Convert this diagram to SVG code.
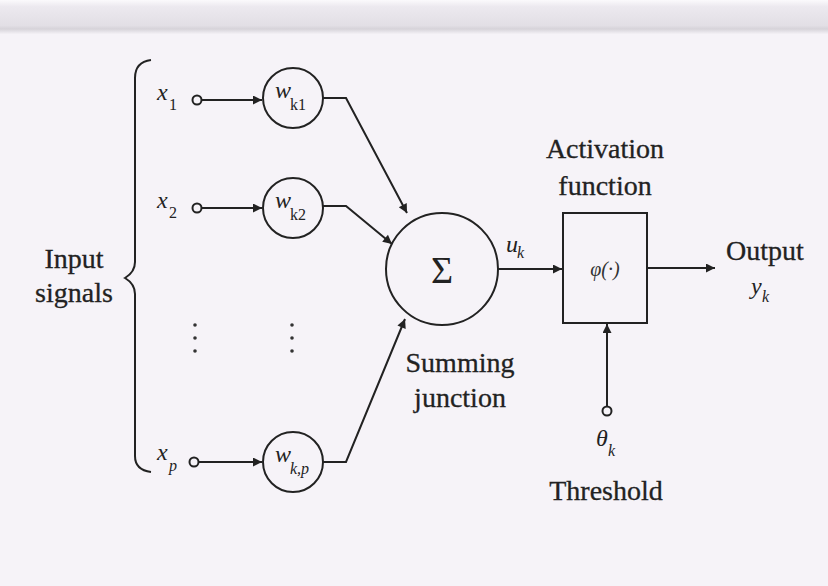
<svg xmlns="http://www.w3.org/2000/svg" width="828" height="586" viewBox="0 0 828 586">
<defs>
<marker id="ah" viewBox="0 0 10 10" refX="10" refY="5" markerWidth="11" markerHeight="9" markerUnits="userSpaceOnUse" orient="auto">
<path d="M0,0 L10,5 L0,10 z" fill="#222"/>
</marker>
<linearGradient id="band" x1="0" y1="0" x2="0" y2="1">
<stop offset="0" stop-color="#fbfafc"/>
<stop offset="0.2" stop-color="#ece9ef"/>
<stop offset="0.75" stop-color="#e2dfe5"/>
<stop offset="0.85" stop-color="#d6d3d9"/>
<stop offset="1" stop-color="#f4f1f6"/>
</linearGradient>
</defs>
<style>
.ln{fill:none;stroke:#222;stroke-width:2}
.cl{fill:none;stroke:#222;stroke-width:2}
.lb{font-family:"Liberation Serif",serif;font-size:28px;fill:#222;stroke:#222;stroke-width:0.3;text-anchor:middle}
.v{font-family:"Liberation Serif",serif;font-style:italic;font-size:24px;fill:#222}
.s{font-family:"Liberation Serif",serif;font-size:16px;fill:#222}
.si{font-family:"Liberation Serif",serif;font-style:italic;font-size:16px;fill:#222}
.dot{fill:#333}
</style>
<rect width="828" height="586" fill="#f6f3f8"/>
<rect x="0" y="0" width="828" height="34" fill="url(#band)"/>

<g id="input-signals">
<path class="ln" d="M151,60 Q135,62 135,78 L135,262 Q135,272 125,278 Q135,284 135,294 L135,456 Q135,470 151,472"/>
<text class="lb" x="74" y="268">Input</text>
<text class="lb" x="74" y="302">signals</text>
</g>

<g id="x1">
<text class="v" x="157" y="100">x</text><text class="s" x="169" y="110">1</text>
<circle class="cl" cx="197" cy="100" r="4.5"/>
</g>
<g id="x2">
<text class="v" x="157" y="208">x</text><text class="s" x="169" y="218">2</text>
<circle class="cl" cx="197" cy="208" r="4.5"/>
</g>
<g id="xp">
<text class="v" x="157" y="460">x</text><text class="si" x="169" y="471">p</text>
<circle class="cl" cx="194" cy="462" r="4.5"/>
</g>

<g id="wk1">
<circle class="cl" cx="293" cy="98" r="30"/>
<text class="v" x="275" y="98" font-size="20">w</text><text class="s" x="290" y="110">k1</text>
</g>
<g id="wk2">
<circle class="cl" cx="293" cy="208" r="30"/>
<text class="v" x="275" y="208" font-size="20">w</text><text class="s" x="290" y="220">k2</text>
</g>
<g id="wkp">
<circle class="cl" cx="293" cy="462" r="30"/>
<text class="v" x="275" y="462" font-size="20">w</text><text class="si" x="290" y="474">k,p</text>
</g>

<g id="dots">
<circle class="dot" cx="195" cy="325" r="1.8"/>
<circle class="dot" cx="195" cy="338" r="1.8"/>
<circle class="dot" cx="195" cy="351" r="1.8"/>
<circle class="dot" cx="292" cy="325" r="1.8"/>
<circle class="dot" cx="292" cy="338" r="1.8"/>
<circle class="dot" cx="292" cy="351" r="1.8"/>
</g>

<g id="summing-junction">
<circle class="cl" cx="442" cy="269" r="56"/>
<text x="442" y="283" font-family="Liberation Serif,serif" font-size="38" fill="#222" text-anchor="middle">Σ</text>
<text class="lb" x="460" y="372">Summing</text>
<text class="lb" x="460" y="407">junction</text>
</g>

<g id="activation-function">
<rect class="cl" x="563" y="213" width="84" height="110"/>
<text x="605" y="276" font-family="Liberation Serif,serif" font-style="italic" font-size="20" fill="#333" text-anchor="middle">φ(·)</text>
<text class="lb" x="605" y="158">Activation</text>
<text class="lb" x="605" y="195">function</text>
</g>

<g id="output">
<text class="lb" x="765" y="260">Output</text>
<text class="v" x="751" y="294">y</text><text class="si" x="762" y="302">k</text>
</g>

<g id="threshold">
<circle class="cl" cx="607" cy="411" r="4.5"/>
<text class="v" x="596" y="446">θ</text><text class="si" x="608" y="456">k</text>
<text class="lb" x="606" y="500">Threshold</text>
</g>

<g id="uk-label">
<text class="v" x="506" y="252" font-size="19">u</text><text class="si" x="517" y="258">k</text>
</g>

<g id="connectors">
<line class="ln" x1="202" y1="100" x2="262" y2="100" marker-end="url(#ah)"/>
<line class="ln" x1="202" y1="208" x2="262" y2="208" marker-end="url(#ah)"/>
<line class="ln" x1="199" y1="462" x2="262" y2="462" marker-end="url(#ah)"/>
<polyline class="ln" points="323,98 346,98 407,213" marker-end="url(#ah)"/>
<polyline class="ln" points="323,206 346,206 392,244" marker-end="url(#ah)"/>
<polyline class="ln" points="323,462 346,462 405,319" marker-end="url(#ah)"/>
<line class="ln" x1="498" y1="269" x2="562" y2="269" marker-end="url(#ah)"/>
<line class="ln" x1="647" y1="268" x2="715" y2="268" marker-end="url(#ah)"/>
<line class="ln" x1="607" y1="406" x2="607" y2="324" marker-end="url(#ah)"/>
</g>
</svg>
